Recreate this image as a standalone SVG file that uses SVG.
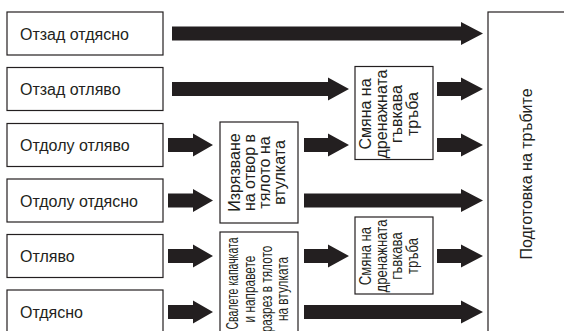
<svg xmlns="http://www.w3.org/2000/svg" width="564" height="331" viewBox="0 0 564 331">
<style>
.box{fill:#fff;stroke:#231f20;stroke-width:1.2}
.lbl{font-family:"Liberation Sans",Arial,sans-serif;font-size:16px;fill:#231f20}
.arr{fill:#231f20}
</style>
<rect width="564" height="331" fill="#fff"/>
<g id="n1"><rect class="box" x="7" y="12" width="156" height="43"/><text class="lbl" x="20" y="39.5">Отзад отдясно</text></g>
<g id="n2"><rect class="box" x="7" y="67.5" width="156" height="43"/><text class="lbl" x="20" y="95">Отзад отляво</text></g>
<g id="n3"><rect class="box" x="7" y="123.5" width="156" height="43"/><text class="lbl" x="20" y="151">Отдолу отляво</text></g>
<g id="n4"><rect class="box" x="7" y="179" width="156" height="43"/><text class="lbl" x="20" y="206.5">Отдолу отдясно</text></g>
<g id="n5"><rect class="box" x="7" y="234.5" width="156" height="43"/><text class="lbl" x="20" y="262">Отляво</text></g>
<g id="n6"><rect class="box" x="7" y="290" width="156" height="43"/><text class="lbl" x="20" y="317.5">Отдясно</text></g>
<g id="n7"><rect class="box" x="220" y="122" width="78" height="101"/>
<text class="lbl" text-anchor="middle" transform="translate(259,172.5) rotate(-90)"><tspan x="0" y="-19.5">Изрязване</tspan><tspan x="0" y="-4.5">на отвор в</tspan><tspan x="0" y="10.5">тялото на</tspan><tspan x="0" y="25.5">втулката</tspan></text></g>
<g id="n8"><rect class="box" x="220" y="232" width="78" height="115"/>
<text class="lbl" text-anchor="middle" transform="translate(259,283.5) rotate(-90)" x="0" y="-21" textLength="92" lengthAdjust="spacingAndGlyphs">Свалете капачката</text>
<text class="lbl" text-anchor="middle" transform="translate(259,289) rotate(-90) scale(0.74,1)"><tspan x="0" y="-4">и направете</tspan><tspan x="0" y="12.5">разрез в тялото</tspan><tspan x="0" y="29.5">на втулката</tspan></text></g>
<g id="n9"><rect class="box" x="355" y="66.5" width="78" height="93"/>
<text class="lbl" text-anchor="middle" transform="translate(394,114) rotate(-90)"><tspan x="0" y="-23">Смяна на</tspan><tspan x="0" y="-7.3">дренажната</tspan><tspan x="0" y="8.3">гъвкава</tspan><tspan x="0" y="24">тръба</tspan></text></g>
<g id="n10"><rect class="box" x="355" y="217" width="78" height="77"/>
<text class="lbl" text-anchor="middle" transform="translate(394,256) rotate(-90) scale(0.82,1)"><tspan x="0" y="-23">Смяна на</tspan><tspan x="0" y="-7.3">дренажната</tspan><tspan x="0" y="8.3">гъвкава</tspan><tspan x="0" y="24">тръба</tspan></text></g>
<g id="n11"><rect class="box" x="488" y="12" width="90" height="330"/>
<text class="lbl" text-anchor="middle" transform="translate(532,174) rotate(-90)">Подготовка на тръбите</text></g>
<g id="connectors" class="arr">
<polygon points="172,26.5 461,26.5 461,22 483,33.5 461,45 461,40.5 172,40.5"/>
<polygon points="172,82 328,82 328,77.5 349,89 328,100.5 328,96 172,96"/>
<polygon points="437,82 461,82 461,77.5 483,89 461,100.5 461,96 437,96"/>
<polygon points="168,138 193,138 193,133.5 213,145 193,156.5 193,152 168,152"/>
<polygon points="304,138 328,138 328,133.5 349,145 328,156.5 328,152 304,152"/>
<polygon points="437,138 461,138 461,133.5 483,145 461,156.5 461,152 437,152"/>
<polygon points="168,193.5 193,193.5 193,189 213,200.5 193,212 193,207.5 168,207.5"/>
<polygon points="304,193.5 461,193.5 461,189 483,200.5 461,212 461,207.5 304,207.5"/>
<polygon points="168,249 193,249 193,244.5 213,256 193,267.5 193,263 168,263"/>
<polygon points="304,249 328,249 328,244.5 349,256 328,267.5 328,263 304,263"/>
<polygon points="437,249 461,249 461,244.5 483,256 461,267.5 461,263 437,263"/>
<polygon points="168,305 193,305 193,300.5 213,312 193,323.5 193,319 168,319"/>
<polygon points="304,305 461,305 461,300.5 483,312 461,323.5 461,319 304,319"/>
</g>
</svg>
